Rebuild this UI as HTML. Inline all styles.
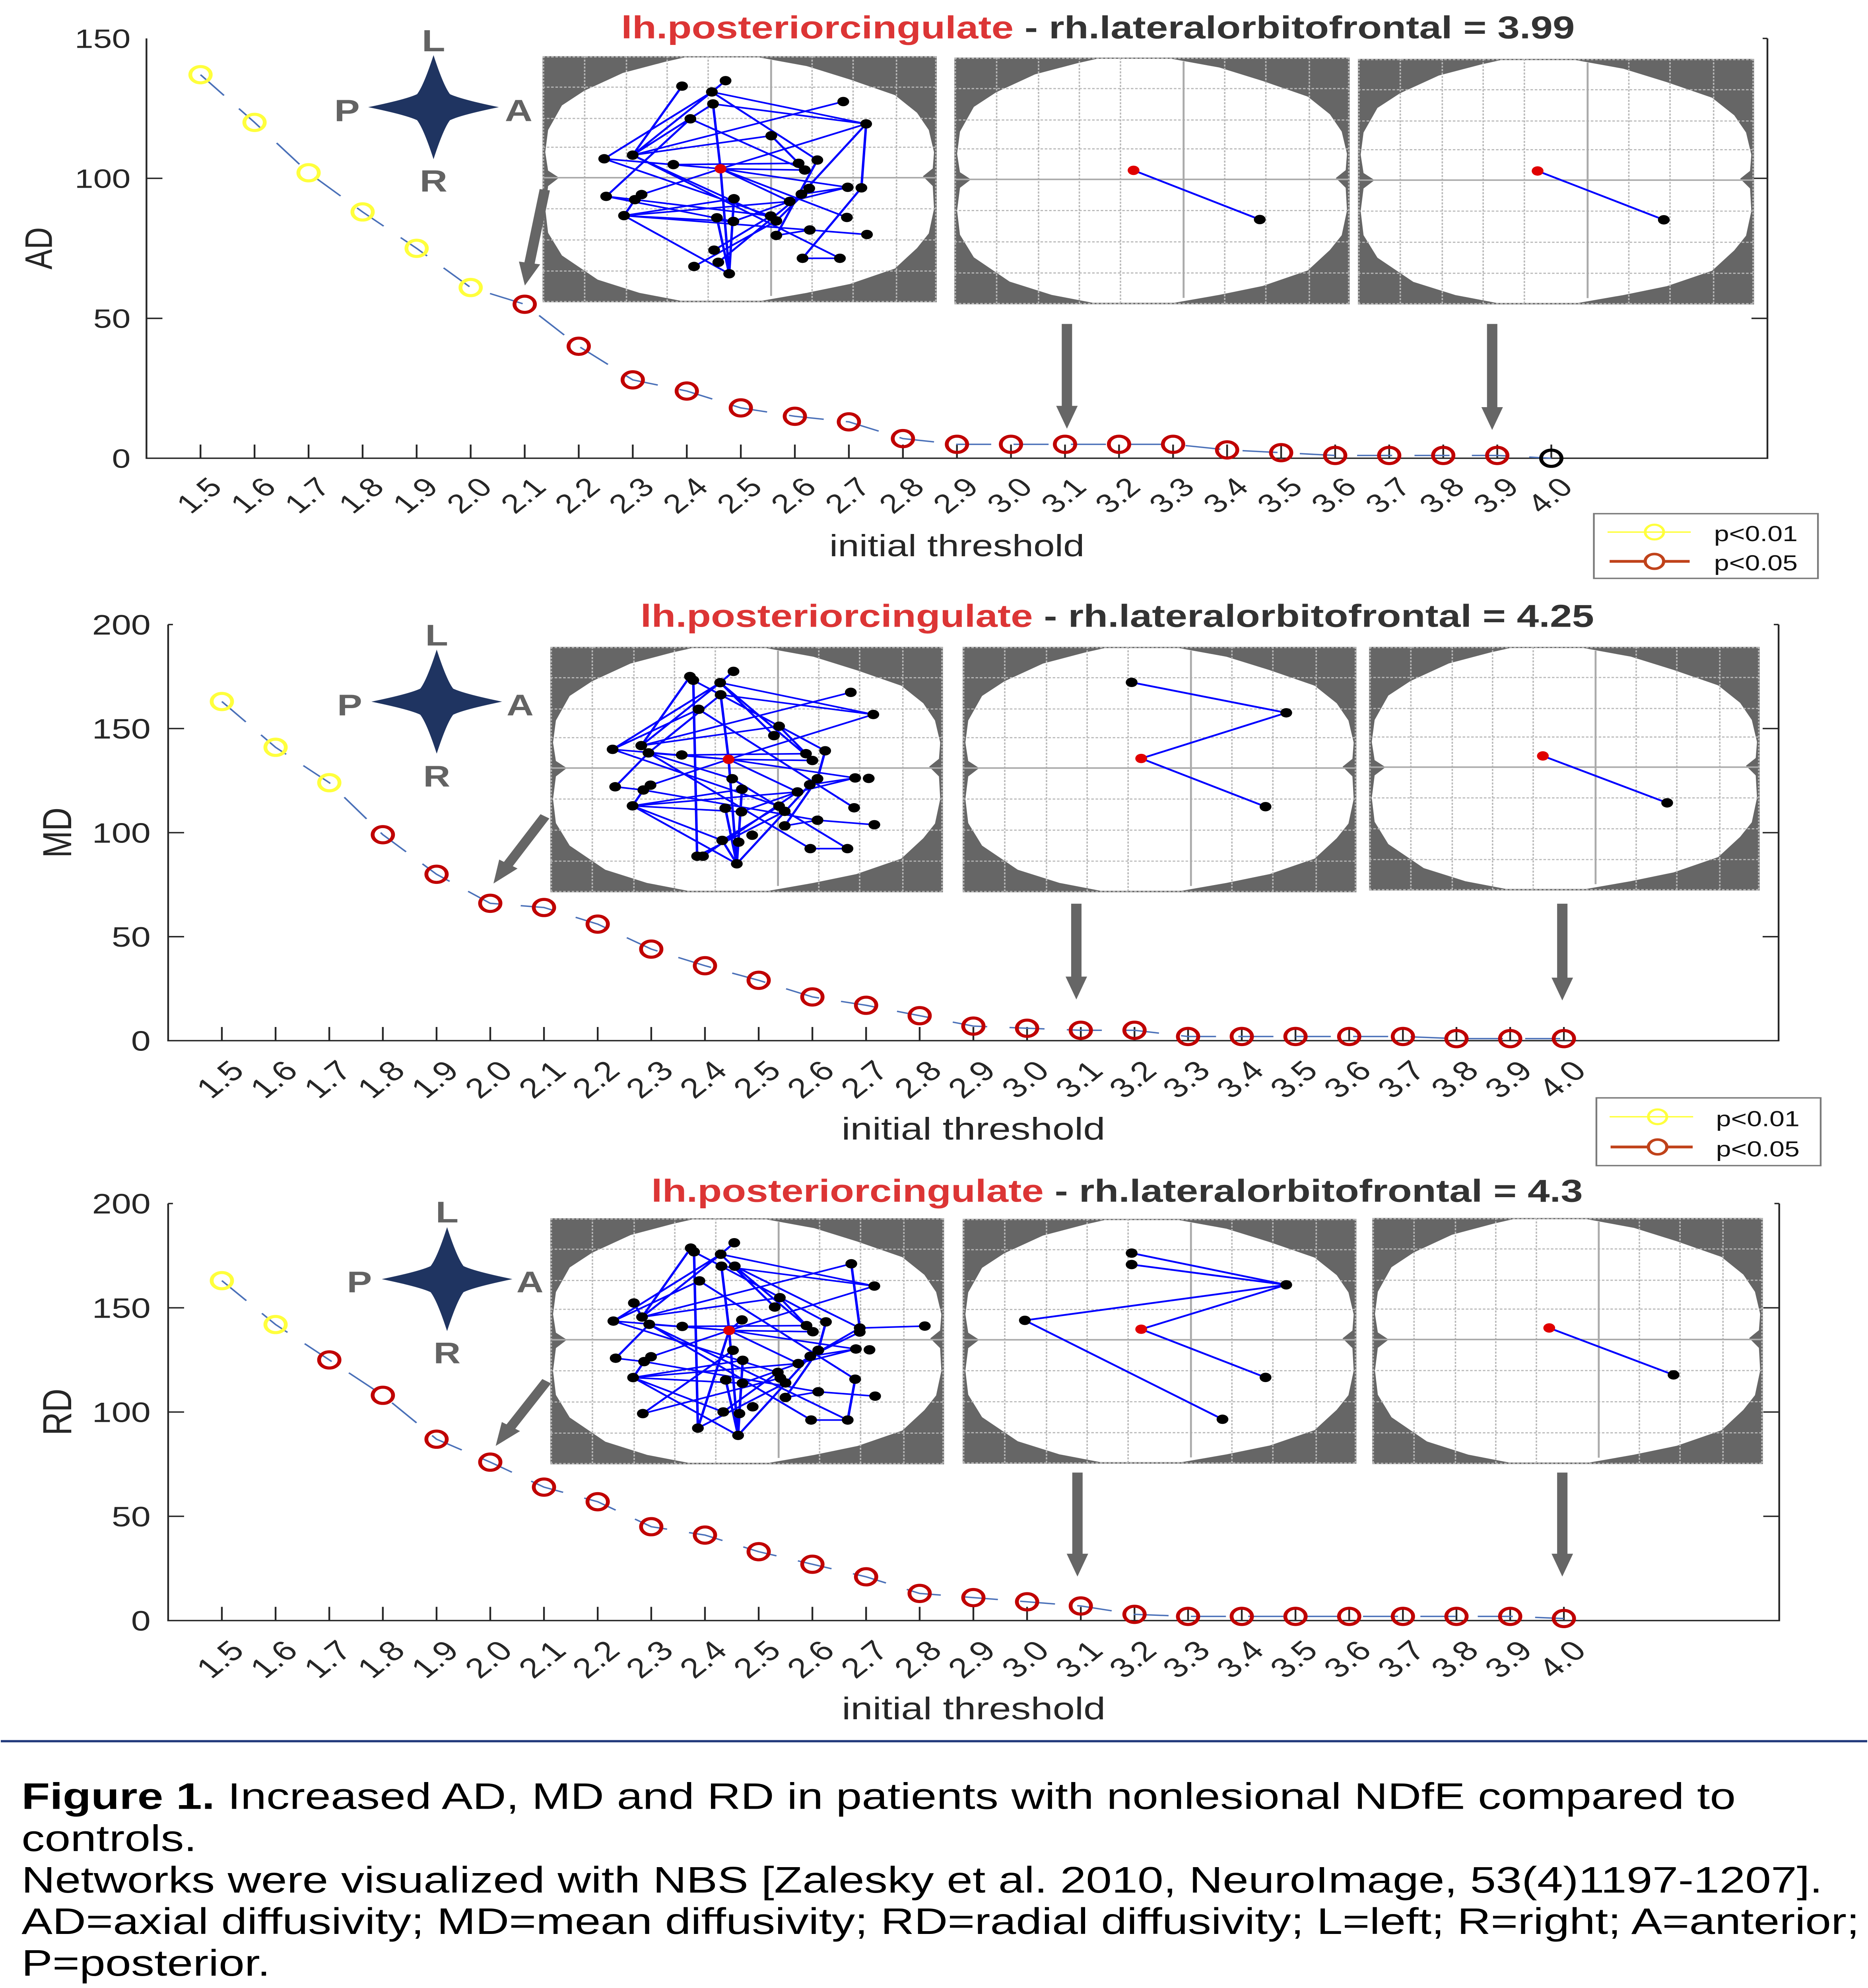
<!DOCTYPE html>
<html><head><meta charset="utf-8"><meta name="viewport" content="width=device-width,initial-scale=1"><style>
html,body{margin:0;padding:0;width:100%;height:100%;overflow:hidden;background:#fff}
svg{position:absolute;left:0;top:0;display:block;width:100vw;height:100vh}
text{font-family:"Liberation Sans",Arial,sans-serif}
</style></head><body>
<svg viewBox="0 0 1172 1567.4" preserveAspectRatio="none" xmlns="http://www.w3.org/2000/svg">
<defs>
<g id="brain">
<rect width="248" height="194" fill="#666"/>
<polygon fill="#fff" points="76.9,4.5 89.3,1 136.4,1 166.2,7.8 193.4,18.4 221.7,30.7 235.6,44.6 243,58.2 246.3,75.7 245.5,88.5 239.3,94.7 245.5,102.4 246.3,120.3 243,139.7 235.6,151.3 221.7,167.4 193.4,179.6 166.2,186.6 137.9,192.8 86.8,192.8 61,186.6 34.7,176.2 12.2,157.1 3.5,139.3 1.7,120.3 3.5,102.4 10.4,95.8 3.5,90.2 1.7,75.7 3.5,58.2 12.2,38.8 26.3,27.2 50.6,13.2"/>
<path stroke="#b8b8b8" stroke-width="0.9" stroke-dasharray="1.6 1.1" fill="none" d="M26.5 0V194M52.8 0V194M78.4 0V194M104.2 0V194M169.6 0V194M195.4 0V194M222.7 0V194M0.6 0V194M247.4 0V194M0 24.4H248M0 49.1H248M0 71.8H248M0 120.3H248M0 144.9H248M0 169.4H248M0 0.6H248M0 193.4H248"/>
<path stroke="#aaa" stroke-width="1.2" fill="none" d="M143.8 3V189M0 95.8H248"/>
</g>
<path id="star" fill="#1f3461" d="M0 -41Q6.2 -17 10.3 -10.3Q17 -6.2 41 0Q17 6.2 10.3 10.3Q6.2 17 0 41Q-6.2 17 -10.3 10.3Q-17 6.2 -41 0Q-17 -6.2 -10.3 -10.3Q-6.2 -17 0 -41Z"/>
<ellipse id="na" cx="0" cy="0" rx="21.1" ry="25.8"/>
<ellipse id="nm" cx="0" cy="0" rx="23" ry="29.1"/>
<circle id="my" r="6.4" fill="none" stroke="#ffff3c" stroke-width="2.4"/>
<circle id="mr" r="6.4" fill="none" stroke="#c00000" stroke-width="2.4"/>
<circle id="mk" r="6.4" fill="none" stroke="#000" stroke-width="2.4"/>
</defs>

<!-- ================= AD PANEL ================= -->
<path fill="none" stroke="#262626" stroke-width="1.1" d="M91.9 30.3V361.3H1108.9V30.3M91.9 140.6h10M91.9 251h10M1108.9 140.6h-10M1108.9 251h-10M1108.9 30.3h-3M125.8 361.3v-10.8M159.7 361.3v-10.8M193.6 361.3v-10.8M227.5 361.3v-10.8M261.4 361.3v-10.8M295.3 361.3v-10.8M329.2 361.3v-10.8M363.1 361.3v-10.8M397 361.3v-10.8M430.9 361.3v-10.8M464.8 361.3v-10.8M498.7 361.3v-10.8M532.6 361.3v-10.8M566.5 361.3v-10.8M600.4 361.3v-10.8M634.3 361.3v-10.8M668.2 361.3v-10.8M702.1 361.3v-10.8M736 361.3v-10.8M769.9 361.3v-10.8M803.8 361.3v-10.8M837.7 361.3v-10.8M871.6 361.3v-10.8M905.5 361.3v-10.8M939.4 361.3v-10.8M973.3 361.3v-10.8"/>
<g font-size="21" fill="#262626" text-anchor="end">
<text x="81.9" y="37.8">150</text><text x="81.9" y="148.1">100</text><text x="81.9" y="258.5">50</text><text x="81.9" y="368.8">0</text>
</g>
<g font-size="21" fill="#262626" text-anchor="end">
<text transform="translate(140.3,385.3) rotate(-45)">1.5</text>
<text transform="translate(174.2,385.3) rotate(-45)">1.6</text>
<text transform="translate(208.1,385.3) rotate(-45)">1.7</text>
<text transform="translate(242,385.3) rotate(-45)">1.8</text>
<text transform="translate(275.9,385.3) rotate(-45)">1.9</text>
<text transform="translate(309.8,385.3) rotate(-45)">2.0</text>
<text transform="translate(343.7,385.3) rotate(-45)">2.1</text>
<text transform="translate(377.6,385.3) rotate(-45)">2.2</text>
<text transform="translate(411.5,385.3) rotate(-45)">2.3</text>
<text transform="translate(445.4,385.3) rotate(-45)">2.4</text>
<text transform="translate(479.3,385.3) rotate(-45)">2.5</text>
<text transform="translate(513.2,385.3) rotate(-45)">2.6</text>
<text transform="translate(547.1,385.3) rotate(-45)">2.7</text>
<text transform="translate(581,385.3) rotate(-45)">2.8</text>
<text transform="translate(614.9,385.3) rotate(-45)">2.9</text>
<text transform="translate(648.8,385.3) rotate(-45)">3.0</text>
<text transform="translate(682.7,385.3) rotate(-45)">3.1</text>
<text transform="translate(716.6,385.3) rotate(-45)">3.2</text>
<text transform="translate(750.5,385.3) rotate(-45)">3.3</text>
<text transform="translate(784.4,385.3) rotate(-45)">3.4</text>
<text transform="translate(818.3,385.3) rotate(-45)">3.5</text>
<text transform="translate(852.2,385.3) rotate(-45)">3.6</text>
<text transform="translate(886.1,385.3) rotate(-45)">3.7</text>
<text transform="translate(920,385.3) rotate(-45)">3.8</text>
<text transform="translate(953.9,385.3) rotate(-45)">3.9</text>
<text transform="translate(987.8,385.3) rotate(-45)">4.0</text>
</g>
<text x="600.4" y="438.5" font-size="24" fill="#262626" text-anchor="middle">initial threshold</text>
<text transform="translate(32.5,195.8) rotate(-90)" font-size="24" fill="#262626" text-anchor="middle">AD</text>

<polyline fill="none" stroke="#4a70b8" stroke-width="1.1" stroke-dasharray="22 14" points="125.8,58.9 159.7,96.5 193.6,136.2 227.5,167.1 261.4,195.8 295.3,226.7 329.2,239.9 363.1,273 397,299.5 430.9,308.3 464.8,321.6 498.7,328.2 532.6,332.6 566.5,345.8 600.4,350.3 634.3,350.3 668.2,350.3 702.1,350.3 736,350.3 769.9,354.7 803.8,356.9 837.7,359.1 871.6,359.1 905.5,359.1 939.4,359.1 973.3,361.3"/>
<use href="#my" x="125.8" y="58.9"/><use href="#my" x="159.7" y="96.5"/><use href="#my" x="193.6" y="136.2"/><use href="#my" x="227.5" y="167.1"/><use href="#my" x="261.4" y="195.8"/><use href="#my" x="295.3" y="226.7"/>
<use href="#mr" x="329.2" y="239.9"/><use href="#mr" x="363.1" y="273"/><use href="#mr" x="397" y="299.5"/><use href="#mr" x="430.9" y="308.3"/><use href="#mr" x="464.8" y="321.6"/><use href="#mr" x="498.7" y="328.2"/><use href="#mr" x="532.6" y="332.6"/><use href="#mr" x="566.5" y="345.8"/><use href="#mr" x="600.4" y="350.3"/><use href="#mr" x="634.3" y="350.3"/><use href="#mr" x="668.2" y="350.3"/><use href="#mr" x="702.1" y="350.3"/><use href="#mr" x="736" y="350.3"/><use href="#mr" x="769.9" y="354.7"/><use href="#mr" x="803.8" y="356.9"/><use href="#mr" x="837.7" y="359.1"/><use href="#mr" x="871.6" y="359.1"/><use href="#mr" x="905.5" y="359.1"/><use href="#mr" x="939.4" y="359.1"/>
<use href="#mk" x="973.3" y="361.3"/>

<!-- AD legend -->
<rect x="1000" y="405" width="140.6" height="51" fill="#fff" stroke="#7a7a7a" stroke-width="1.1"/>
<line x1="1008.6" y1="419.5" x2="1060.8" y2="419.5" stroke="#ffff3c" stroke-width="1.1"/>
<circle cx="1038" cy="419.5" r="5.8" fill="none" stroke="#ffff3c" stroke-width="1.7"/>
<line x1="1009.9" y1="442.6" x2="1060.1" y2="442.6" stroke="#c0421a" stroke-width="2.2"/>
<circle cx="1038" cy="442.6" r="5.8" fill="#fff" stroke="#c0421a" stroke-width="2"/>
<g font-size="17" fill="#111"><text x="1075.4" y="426.6">p&lt;0.01</text><text x="1075.4" y="449.7">p&lt;0.05</text></g>

<!-- AD title -->
<text x="389.7" y="30.2" font-size="24.9" font-weight="bold"><tspan fill="#dc3535">lh.posteriorcingulate</tspan><tspan fill="#333"> - rh.lateralorbitofrontal = 3.99</tspan></text>

<!-- AD compass -->
<use href="#star" x="272" y="84.5"/>
<g font-size="24" font-weight="bold" fill="#636363" text-anchor="middle">
<text x="272" y="40.4">L</text><text x="217.7" y="95.5">P</text><text x="325.4" y="95.5">A</text><text x="272" y="151">R</text>
</g>

<!-- AD brains -->
<use href="#brain" transform="translate(340.4,44.3) scale(0.9972,1)"/>
<use href="#brain" transform="translate(598.8,45.4) scale(1,1.0026)"/>
<use href="#brain" transform="translate(852,46.4) scale(1.002,0.998)"/>

<g transform="translate(324.31,24.947) scale(0.17501,0.143197)">
<path fill="none" stroke="#0000ff" stroke-width="8.8" stroke-linecap="round" d="M592 300L415 680M748 270L699 332M699 332L313 700M699 332L415 680M699 332L1252 508M699 332L1077 707M703 398L1252 508M703 398L730 755M703 398L415 680M1170 385L415 680M622 480L320 907M622 480L1032 762M912 573L415 680M912 573L1010 725M1252 508L730 755M1252 508L1235 860M1252 508L1020 895M313 700L730 755M313 700L910 1015M313 700L561 732M415 680L1158 1248M415 680L930 1042M561 732L730 755M561 732L1010 725M730 755L1032 762M730 755L1186 857M730 755L447 897M730 755L978 935M730 755L761 1333M730 755L1183 1023M1077 707L930 1122M1235 860L1024 1248M1186 857L978 935M1186 857L1020 895M320 907L423 925M320 907L776 1045M423 925L384 1013M423 925L910 1015M778 920L384 1013M778 920L761 1333M978 935L384 1013M384 1013L776 1045M384 1013L1050 1092M384 1013L761 1333M717 1025L761 1333M776 1045L978 935M910 1015L707 1203M930 1042L635 1293M1050 1092L1255 1117M1050 1092L930 1122M1024 1248L1158 1248M1048 863L930 1042M1020 895L722 1270"/>
<g fill="#000">
<use href="#na" x="592" y="300"/><use href="#na" x="748" y="270"/><use href="#na" x="699" y="332"/><use href="#na" x="703" y="398"/><use href="#na" x="1170" y="385"/><use href="#na" x="622" y="480"/><use href="#na" x="1252" y="508"/><use href="#na" x="912" y="573"/><use href="#na" x="313" y="700"/><use href="#na" x="415" y="680"/><use href="#na" x="561" y="732"/><use href="#na" x="1010" y="725"/><use href="#na" x="1077" y="707"/><use href="#na" x="1032" y="762"/><use href="#na" x="1186" y="857"/><use href="#na" x="1235" y="860"/><use href="#na" x="1048" y="863"/><use href="#na" x="1020" y="895"/><use href="#na" x="320" y="907"/><use href="#na" x="447" y="897"/><use href="#na" x="423" y="925"/><use href="#na" x="778" y="920"/><use href="#na" x="978" y="935"/><use href="#na" x="384" y="1013"/><use href="#na" x="717" y="1025"/><use href="#na" x="776" y="1045"/><use href="#na" x="910" y="1015"/><use href="#na" x="930" y="1042"/><use href="#na" x="1183" y="1023"/><use href="#na" x="1050" y="1092"/><use href="#na" x="1255" y="1117"/><use href="#na" x="930" y="1122"/><use href="#na" x="707" y="1203"/><use href="#na" x="722" y="1270"/><use href="#na" x="635" y="1293"/><use href="#na" x="1024" y="1248"/><use href="#na" x="1158" y="1248"/><use href="#na" x="761" y="1333"/>
</g>
<use href="#na" x="730" y="755" fill="#e00000"/>
</g>

<g stroke="#0000ff" stroke-width="1.4" fill="none">
<path d="M711.2 134.3L790.4 173.1M964.7 134.8L1043.9 173.3"/>
</g>
<g fill="#000"><circle cx="790.4" cy="173.1" r="3.7"/><circle cx="1043.9" cy="173.3" r="3.7"/></g>
<g fill="#e00000"><circle cx="711.2" cy="134.3" r="3.7"/><circle cx="964.7" cy="134.8" r="3.7"/></g>

<!-- AD arrows -->
<g fill="#666">
<polygon points="338.59,149.07 345.01,150.13 335.45,207.87 338.9,208.44 329.3,225.1 325.58,206.24 329.03,206.81"/>
<polygon points="666.15,255.4 672.65,255.4 672.65,320 676.15,320 669.4,338 662.65,320 666.15,320"/>
<polygon points="932.95,255.4 939.45,255.4 939.45,321 942.95,321 936.2,339 929.45,321 932.95,321"/>
</g>

<!-- ================= MD PANEL ================= -->
<path fill="none" stroke="#262626" stroke-width="1.1" d="M105.5 492.4V820.5H1115.9V492.4M105.5 492.4h3M105.5 574.4h10M105.5 656.5h10M105.5 738.5h10M1115.9 492.4h-3M1115.9 574.4h-10M1115.9 656.5h-10M1115.9 738.5h-10M139.2 820.5v-10.8M172.9 820.5v-10.8M206.6 820.5v-10.8M240.2 820.5v-10.8M273.9 820.5v-10.8M307.6 820.5v-10.8M341.3 820.5v-10.8M375 820.5v-10.8M408.6 820.5v-10.8M442.3 820.5v-10.8M476 820.5v-10.8M509.7 820.5v-10.8M543.4 820.5v-10.8M577 820.5v-10.8M610.7 820.5v-10.8M644.4 820.5v-10.8M678.1 820.5v-10.8M711.8 820.5v-10.8M745.4 820.5v-10.8M779.1 820.5v-10.8M812.8 820.5v-10.8M846.5 820.5v-10.8M880.2 820.5v-10.8M913.8 820.5v-10.8M947.5 820.5v-10.8M981.2 820.5v-10.8"/>
<g font-size="22" fill="#262626" text-anchor="end">
<text x="94.5" y="500.3">200</text><text x="94.5" y="582.3">150</text><text x="94.5" y="664.4">100</text><text x="94.5" y="746.4">50</text><text x="94.5" y="828.4">0</text>
</g>
<g font-size="22" fill="#262626" text-anchor="end">
<text transform="translate(154.2,845.5) rotate(-45)">1.5</text>
<text transform="translate(187.9,845.5) rotate(-45)">1.6</text>
<text transform="translate(221.6,845.5) rotate(-45)">1.7</text>
<text transform="translate(255.2,845.5) rotate(-45)">1.8</text>
<text transform="translate(288.9,845.5) rotate(-45)">1.9</text>
<text transform="translate(322.6,845.5) rotate(-45)">2.0</text>
<text transform="translate(356.3,845.5) rotate(-45)">2.1</text>
<text transform="translate(390,845.5) rotate(-45)">2.2</text>
<text transform="translate(423.6,845.5) rotate(-45)">2.3</text>
<text transform="translate(457.3,845.5) rotate(-45)">2.4</text>
<text transform="translate(491,845.5) rotate(-45)">2.5</text>
<text transform="translate(524.7,845.5) rotate(-45)">2.6</text>
<text transform="translate(558.4,845.5) rotate(-45)">2.7</text>
<text transform="translate(592,845.5) rotate(-45)">2.8</text>
<text transform="translate(625.7,845.5) rotate(-45)">2.9</text>
<text transform="translate(659.4,845.5) rotate(-45)">3.0</text>
<text transform="translate(693.1,845.5) rotate(-45)">3.1</text>
<text transform="translate(726.8,845.5) rotate(-45)">3.2</text>
<text transform="translate(760.4,845.5) rotate(-45)">3.3</text>
<text transform="translate(794.1,845.5) rotate(-45)">3.4</text>
<text transform="translate(827.8,845.5) rotate(-45)">3.5</text>
<text transform="translate(861.5,845.5) rotate(-45)">3.6</text>
<text transform="translate(895.2,845.5) rotate(-45)">3.7</text>
<text transform="translate(928.8,845.5) rotate(-45)">3.8</text>
<text transform="translate(962.5,845.5) rotate(-45)">3.9</text>
<text transform="translate(996.2,845.5) rotate(-45)">4.0</text>
</g>
<text x="610.7" y="898.5" font-size="24.8" fill="#262626" text-anchor="middle">initial threshold</text>
<text transform="translate(44.6,656.5) rotate(-90)" font-size="25.5" fill="#262626" text-anchor="middle">MD</text>

<polyline fill="none" stroke="#4a70b8" stroke-width="1.1" stroke-dasharray="22 14" points="139.2,553.1 172.9,589.2 206.6,617.1 240.2,658.1 273.9,689.3 307.6,712.2 341.3,715.5 375,728.6 408.6,748.3 442.3,761.4 476,772.9 509.7,786 543.4,792.6 577,800.8 610.7,809 644.4,810.7 678.1,812.3 711.8,812.3 745.4,817.2 779.1,817.2 812.8,817.2 846.5,817.2 880.2,817.2 913.8,818.9 947.5,818.9 981.2,818.9"/>
<use href="#my" x="139.2" y="553.1"/><use href="#my" x="172.9" y="589.2"/><use href="#my" x="206.6" y="617.1"/>
<use href="#mr" x="240.2" y="658.1"/><use href="#mr" x="273.9" y="689.3"/><use href="#mr" x="307.6" y="712.2"/><use href="#mr" x="341.3" y="715.5"/><use href="#mr" x="375" y="728.6"/><use href="#mr" x="408.6" y="748.3"/><use href="#mr" x="442.3" y="761.4"/><use href="#mr" x="476" y="772.9"/><use href="#mr" x="509.7" y="786"/><use href="#mr" x="543.4" y="792.6"/><use href="#mr" x="577" y="800.8"/><use href="#mr" x="610.7" y="809"/><use href="#mr" x="644.4" y="810.7"/><use href="#mr" x="678.1" y="812.3"/><use href="#mr" x="711.8" y="812.3"/><use href="#mr" x="745.4" y="817.2"/><use href="#mr" x="779.1" y="817.2"/><use href="#mr" x="812.8" y="817.2"/><use href="#mr" x="846.5" y="817.2"/><use href="#mr" x="880.2" y="817.2"/><use href="#mr" x="913.8" y="818.9"/><use href="#mr" x="947.5" y="818.9"/><use href="#mr" x="981.2" y="818.9"/>

<!-- MD legend -->
<rect x="1001.6" y="865.6" width="140.7" height="53.4" fill="#fff" stroke="#7a7a7a" stroke-width="1.1"/>
<line x1="1009.9" y1="880.5" x2="1062.3" y2="880.5" stroke="#ffff3c" stroke-width="1.1"/>
<circle cx="1040" cy="880.5" r="5.8" fill="none" stroke="#ffff3c" stroke-width="1.7"/>
<line x1="1010.5" y1="904.3" x2="1062" y2="904.3" stroke="#c0421a" stroke-width="2.2"/>
<circle cx="1040" cy="904.3" r="5.8" fill="#fff" stroke="#c0421a" stroke-width="2"/>
<g font-size="17" fill="#111"><text x="1076.6" y="888">p&lt;0.01</text><text x="1076.6" y="911.8">p&lt;0.05</text></g>

<text x="401.8" y="494.2" font-size="24.9" font-weight="bold"><tspan fill="#dc3535">lh.posteriorcingulate</tspan><tspan fill="#333"> - rh.lateralorbitofrontal = 4.25</tspan></text>

<use href="#star" x="274" y="553.2"/>
<g font-size="23.5" font-weight="bold" fill="#636363" text-anchor="middle">
<text x="274" y="509">L</text><text x="219.4" y="564">P</text><text x="326.3" y="564">A</text><text x="274" y="620">R</text>
</g>

<use href="#brain" transform="translate(345.3,510) scale(0.9931,0.9974)"/>
<use href="#brain" transform="translate(604,510) scale(0.996,0.9974)"/>
<use href="#brain" transform="translate(859,510) scale(0.988,0.99)"/>

<g transform="translate(341.77,506.42) scale(0.160686,0.127276)">
<path fill="none" stroke="#0000ff" stroke-width="9.8" stroke-linecap="round" d="M567 212L377 640M580 235L595 1325M580 235L687 325M737 180L685 250M685 250L265 663M685 250L377 640M685 250L1283 447M685 250L895 578M685 250L1045 732M687 325L718 725M687 325L1283 447M687 325L1095 672M687 325L405 685M1195 310L377 640M601 415L265 663M601 415L1208 1025M1283 447L718 725M915 520L377 640M915 520L1020 690M265 663L718 725M265 663L915 1015M405 685L275 895M405 685L718 725M535 698L718 725M535 698L1020 690M405 685L1037 1278M718 725L1045 732M718 725L1212 840M718 725L413 885M718 725L750 1372M718 725L987 927M405 685L732 845M1095 672L1065 845M1212 840L987 927M1212 840L1035 882M275 895L385 915M385 915L343 1013M385 915L1065 1102M770 910L343 1013M987 927L343 1013M343 1013L768 1050M343 1013L693 1227M343 1013L750 1372M770 910L750 1372M915 1015L693 1227M937 1047L595 1325M768 1050L987 927M987 927L618 1325M1065 1102L1287 1130M1065 1102L937 1137M1037 1278L1182 1278M1035 882L750 1372M705 1028L750 1372M1182 1278L732 845M693 1227L750 1372M1065 845L937 1137"/>
<g fill="#000">
<use href="#nm" x="567" y="212"/><use href="#nm" x="580" y="235"/><use href="#nm" x="737" y="180"/><use href="#nm" x="685" y="250"/><use href="#nm" x="687" y="325"/><use href="#nm" x="1195" y="310"/><use href="#nm" x="601" y="415"/><use href="#nm" x="1283" y="447"/><use href="#nm" x="915" y="520"/><use href="#nm" x="895" y="578"/><use href="#nm" x="265" y="663"/><use href="#nm" x="377" y="640"/><use href="#nm" x="405" y="685"/><use href="#nm" x="535" y="698"/><use href="#nm" x="1020" y="690"/><use href="#nm" x="1095" y="672"/><use href="#nm" x="1045" y="732"/><use href="#nm" x="732" y="845"/><use href="#nm" x="1212" y="840"/><use href="#nm" x="1265" y="843"/><use href="#nm" x="1065" y="845"/><use href="#nm" x="1035" y="882"/><use href="#nm" x="275" y="895"/><use href="#nm" x="413" y="885"/><use href="#nm" x="385" y="915"/><use href="#nm" x="770" y="910"/><use href="#nm" x="987" y="927"/><use href="#nm" x="343" y="1013"/><use href="#nm" x="705" y="1028"/><use href="#nm" x="768" y="1050"/><use href="#nm" x="915" y="1015"/><use href="#nm" x="937" y="1047"/><use href="#nm" x="1208" y="1025"/><use href="#nm" x="1065" y="1102"/><use href="#nm" x="1287" y="1130"/><use href="#nm" x="937" y="1137"/><use href="#nm" x="810" y="1195"/><use href="#nm" x="693" y="1227"/><use href="#nm" x="757" y="1238"/><use href="#nm" x="1037" y="1278"/><use href="#nm" x="1182" y="1278"/><use href="#nm" x="595" y="1325"/><use href="#nm" x="618" y="1325"/><use href="#nm" x="750" y="1372"/>
</g>
<use href="#nm" x="718" y="725" fill="#e00000"/>
</g>

<g stroke="#0000ff" stroke-width="1.4" fill="none">
<path d="M710 538L807 562L716 598L794 636M968 596L1046 633"/>
</g>
<g fill="#000"><circle cx="710" cy="538" r="3.7"/><circle cx="807" cy="562" r="3.7"/><circle cx="794" cy="636" r="3.7"/><circle cx="1046" cy="633" r="3.7"/></g>
<g fill="#e00000"><circle cx="716" cy="598" r="3.7"/><circle cx="968" cy="596" r="3.7"/></g>

<g fill="#666">
<polygon points="339.13,641.91 344.68,645.29 321.74,682.92 324.73,684.74 309.6,696.6 313.21,677.72 316.19,679.54"/>
<polygon points="672.05,712.5 678.55,712.5 678.55,770 682.05,770 675.3,788 668.55,770 672.05,770"/>
<polygon points="976.95,712.5 983.45,712.5 983.45,770.8 986.95,770.8 980.2,788.8 973.45,770.8 976.95,770.8"/>
</g>

<!-- ================= RD PANEL ================= -->
<path fill="none" stroke="#262626" stroke-width="1.1" d="M105.5 948.9V1277.7H1116.3V948.9M105.5 948.9h3M105.5 1031.1h10M105.5 1113.3h10M105.5 1195.5h10M1116.3 948.9h-3M1116.3 1031.1h-10M1116.3 1113.3h-10M1116.3 1195.5h-10M139.2 1277.7v-10.8M172.9 1277.7v-10.8M206.6 1277.7v-10.8M240.2 1277.7v-10.8M273.9 1277.7v-10.8M307.6 1277.7v-10.8M341.3 1277.7v-10.8M375 1277.7v-10.8M408.6 1277.7v-10.8M442.3 1277.7v-10.8M476 1277.7v-10.8M509.7 1277.7v-10.8M543.4 1277.7v-10.8M577 1277.7v-10.8M610.7 1277.7v-10.8M644.4 1277.7v-10.8M678.1 1277.7v-10.8M711.8 1277.7v-10.8M745.4 1277.7v-10.8M779.1 1277.7v-10.8M812.8 1277.7v-10.8M846.5 1277.7v-10.8M880.2 1277.7v-10.8M913.8 1277.7v-10.8M947.5 1277.7v-10.8M981.2 1277.7v-10.8"/>
<g font-size="22" fill="#262626" text-anchor="end">
<text x="94.5" y="956.8">200</text><text x="94.5" y="1039">150</text><text x="94.5" y="1121.2">100</text><text x="94.5" y="1203.4">50</text><text x="94.5" y="1285.6">0</text>
</g>
<g font-size="22" fill="#262626" text-anchor="end">
<text transform="translate(154.2,1302.7) rotate(-45)">1.5</text>
<text transform="translate(187.9,1302.7) rotate(-45)">1.6</text>
<text transform="translate(221.6,1302.7) rotate(-45)">1.7</text>
<text transform="translate(255.2,1302.7) rotate(-45)">1.8</text>
<text transform="translate(288.9,1302.7) rotate(-45)">1.9</text>
<text transform="translate(322.6,1302.7) rotate(-45)">2.0</text>
<text transform="translate(356.3,1302.7) rotate(-45)">2.1</text>
<text transform="translate(390,1302.7) rotate(-45)">2.2</text>
<text transform="translate(423.6,1302.7) rotate(-45)">2.3</text>
<text transform="translate(457.3,1302.7) rotate(-45)">2.4</text>
<text transform="translate(491,1302.7) rotate(-45)">2.5</text>
<text transform="translate(524.7,1302.7) rotate(-45)">2.6</text>
<text transform="translate(558.4,1302.7) rotate(-45)">2.7</text>
<text transform="translate(592,1302.7) rotate(-45)">2.8</text>
<text transform="translate(625.7,1302.7) rotate(-45)">2.9</text>
<text transform="translate(659.4,1302.7) rotate(-45)">3.0</text>
<text transform="translate(693.1,1302.7) rotate(-45)">3.1</text>
<text transform="translate(726.8,1302.7) rotate(-45)">3.2</text>
<text transform="translate(760.4,1302.7) rotate(-45)">3.3</text>
<text transform="translate(794.1,1302.7) rotate(-45)">3.4</text>
<text transform="translate(827.8,1302.7) rotate(-45)">3.5</text>
<text transform="translate(861.5,1302.7) rotate(-45)">3.6</text>
<text transform="translate(895.2,1302.7) rotate(-45)">3.7</text>
<text transform="translate(928.8,1302.7) rotate(-45)">3.8</text>
<text transform="translate(962.5,1302.7) rotate(-45)">3.9</text>
<text transform="translate(996.2,1302.7) rotate(-45)">4.0</text>
</g>
<text x="610.9" y="1355.5" font-size="24.8" fill="#262626" text-anchor="middle">initial threshold</text>
<text transform="translate(44.6,1113.3) rotate(-90)" font-size="25.5" fill="#262626" text-anchor="middle">RD</text>

<polyline fill="none" stroke="#4a70b8" stroke-width="1.1" stroke-dasharray="22 14" points="139.2,1009.7 172.9,1044.3 206.6,1072.2 240.2,1100.1 273.9,1134.7 307.6,1152.8 341.3,1172.5 375,1184 408.6,1203.7 442.3,1210.3 476,1223.4 509.7,1233.3 543.4,1243.2 577,1256.3 610.7,1259.6 644.4,1262.9 678.1,1266.2 711.8,1272.8 745.4,1274.4 779.1,1274.4 812.8,1274.4 846.5,1274.4 880.2,1274.4 913.8,1274.4 947.5,1274.4 981.2,1276.1"/>
<use href="#my" x="139.2" y="1009.7"/><use href="#my" x="172.9" y="1044.3"/>
<use href="#mr" x="206.6" y="1072.2"/><use href="#mr" x="240.2" y="1100.1"/><use href="#mr" x="273.9" y="1134.7"/><use href="#mr" x="307.6" y="1152.8"/><use href="#mr" x="341.3" y="1172.5"/><use href="#mr" x="375" y="1184"/><use href="#mr" x="408.6" y="1203.7"/><use href="#mr" x="442.3" y="1210.3"/><use href="#mr" x="476" y="1223.4"/><use href="#mr" x="509.7" y="1233.3"/><use href="#mr" x="543.4" y="1243.2"/><use href="#mr" x="577" y="1256.3"/><use href="#mr" x="610.7" y="1259.6"/><use href="#mr" x="644.4" y="1262.9"/><use href="#mr" x="678.1" y="1266.2"/><use href="#mr" x="711.8" y="1272.8"/><use href="#mr" x="745.4" y="1274.4"/><use href="#mr" x="779.1" y="1274.4"/><use href="#mr" x="812.8" y="1274.4"/><use href="#mr" x="846.5" y="1274.4"/><use href="#mr" x="880.2" y="1274.4"/><use href="#mr" x="913.8" y="1274.4"/><use href="#mr" x="947.5" y="1274.4"/><use href="#mr" x="981.2" y="1276.1"/>

<text x="408.6" y="947.5" font-size="24.9" font-weight="bold"><tspan fill="#dc3535">lh.posteriorcingulate</tspan><tspan fill="#333"> - rh.lateralorbitofrontal = 4.3</tspan></text>

<use href="#star" x="280.5" y="1008.5"/>
<g font-size="23.5" font-weight="bold" fill="#636363" text-anchor="middle">
<text x="280.5" y="963.8">L</text><text x="225.5" y="1018.8">P</text><text x="332.5" y="1018.8">A</text><text x="280.5" y="1074.8">R</text>
</g>

<use href="#brain" transform="translate(345.3,960.5) scale(0.996,1)"/>
<use href="#brain" transform="translate(604,961) scale(0.996,0.995)"/>
<use href="#brain" transform="translate(861,960.3) scale(0.988,1)"/>

<g transform="translate(341.77,957.96) scale(0.160686,0.127276)">
<path fill="none" stroke="#0000ff" stroke-width="9.8" stroke-linecap="round" d="M570 205L380 632M583 228L598 1320M583 228L690 317M740 172L687 243M687 243L268 657M687 243L380 632M687 243L1287 440M687 243L898 570M742 317L1047 723M742 317L1230 700M690 317L720 715M690 317L1287 440M690 317L1098 662M1197 302L380 632M1197 302L1230 700M604 408L268 657M604 408L1212 1017M1287 440L720 715M918 512L380 632M918 512L1022 685M348 545L380 632M268 657L720 715M268 657L910 975M408 677L277 887M408 677L720 715M537 690L720 715M537 690L1022 685M408 677L1040 1270M408 677L1183 1270M720 715L1047 723M720 715L1215 830M720 715L415 878M720 715L755 1365M720 715L990 920M720 715L598 1320M770 650L720 715M383 1230L735 838M1230 700L1484 688M1230 700L990 920M1230 725L1037 875M1098 662L1068 838M1215 830L990 920M1215 830L1037 875M277 887L388 908M388 908L345 1007M388 908L1068 1095M773 900L345 1007M990 920L345 1007M345 1007L772 1042M345 1007L697 1220M345 1007L755 1365M773 900L755 1365M910 975L697 1220M940 1040L598 1320M772 1042L990 920M1068 1095L1290 1122M1068 1095L940 1130M1040 1270L1183 1270M1212 1017L1183 1270M1037 875L755 1365M707 1022L755 1365M1068 838L940 1130M383 1230L920 1010"/>
<g fill="#000">
<use href="#nm" x="570" y="205"/><use href="#nm" x="583" y="228"/><use href="#nm" x="740" y="172"/><use href="#nm" x="687" y="243"/><use href="#nm" x="690" y="317"/><use href="#nm" x="742" y="317"/><use href="#nm" x="1197" y="302"/><use href="#nm" x="604" y="408"/><use href="#nm" x="1287" y="440"/><use href="#nm" x="918" y="512"/><use href="#nm" x="898" y="570"/><use href="#nm" x="348" y="545"/><use href="#nm" x="268" y="657"/><use href="#nm" x="380" y="632"/><use href="#nm" x="408" y="677"/><use href="#nm" x="537" y="690"/><use href="#nm" x="770" y="650"/><use href="#nm" x="1022" y="685"/><use href="#nm" x="1098" y="662"/><use href="#nm" x="1047" y="723"/><use href="#nm" x="1230" y="700"/><use href="#nm" x="1230" y="725"/><use href="#nm" x="1484" y="688"/><use href="#nm" x="735" y="838"/><use href="#nm" x="1215" y="830"/><use href="#nm" x="1268" y="835"/><use href="#nm" x="1068" y="838"/><use href="#nm" x="1037" y="875"/><use href="#nm" x="277" y="887"/><use href="#nm" x="415" y="878"/><use href="#nm" x="388" y="908"/><use href="#nm" x="773" y="900"/><use href="#nm" x="990" y="920"/><use href="#nm" x="345" y="1007"/><use href="#nm" x="707" y="1022"/><use href="#nm" x="772" y="1042"/><use href="#nm" x="910" y="975"/><use href="#nm" x="920" y="1010"/><use href="#nm" x="940" y="1040"/><use href="#nm" x="1212" y="1017"/><use href="#nm" x="1068" y="1095"/><use href="#nm" x="1290" y="1122"/><use href="#nm" x="940" y="1130"/><use href="#nm" x="812" y="1188"/><use href="#nm" x="697" y="1220"/><use href="#nm" x="760" y="1230"/><use href="#nm" x="383" y="1230"/><use href="#nm" x="1040" y="1270"/><use href="#nm" x="1183" y="1270"/><use href="#nm" x="598" y="1320"/><use href="#nm" x="755" y="1365"/>
</g>
<use href="#nm" x="720" y="715" fill="#e00000"/>
</g>

<g stroke="#0000ff" stroke-width="1.4" fill="none">
<path d="M710 988L807 1013M710 997L807 1013M643 1041L807 1013M716 1048L807 1013M716 1048L794 1086M643 1041L767 1119M972 1047L1050 1084"/>
</g>
<g fill="#000"><circle cx="710" cy="988" r="3.7"/><circle cx="710" cy="997" r="3.7"/><circle cx="807" cy="1013" r="3.7"/><circle cx="643" cy="1041" r="3.7"/><circle cx="794" cy="1086" r="3.7"/><circle cx="767" cy="1119" r="3.7"/><circle cx="1050" cy="1084" r="3.7"/></g>
<g fill="#e00000"><circle cx="716" cy="1048" r="3.7"/><circle cx="972" cy="1047" r="3.7"/></g>

<g fill="#666">
<polygon points="340.25,1087.27 345.75,1090.73 323.32,1126.48 326.29,1128.34 311,1140 314.85,1121.16 317.82,1123.02"/>
<polygon points="672.75,1161 679.25,1161 679.25,1225 682.75,1225 676,1243 669.25,1225 672.75,1225"/>
<polygon points="976.95,1161 983.45,1161 983.45,1225 986.95,1225 980.2,1243 973.45,1225 976.95,1225"/>
</g>

<!-- ================= CAPTION ================= -->
<line x1="0.5" y1="1372.8" x2="1171.5" y2="1372.8" stroke="#233b7d" stroke-width="1.8"/>
<g font-size="29.1" fill="#000">
<text x="13.5" y="1426.2"><tspan font-weight="bold">Figure 1.</tspan> Increased AD, MD and RD in patients with nonlesional NDfE compared to</text>
<text x="13.5" y="1459.4">controls.</text>
<text x="13.5" y="1492.1">Networks were visualized with NBS [Zalesky et al. 2010, NeuroImage, 53(4)1197-1207].</text>
<text x="13.5" y="1524.7">AD=axial diffusivity; MD=mean diffusivity; RD=radial diffusivity; L=left; R=right; A=anterior;</text>
<text x="13.5" y="1557.7">P=posterior.</text>
</g>
</svg>
</body></html>
